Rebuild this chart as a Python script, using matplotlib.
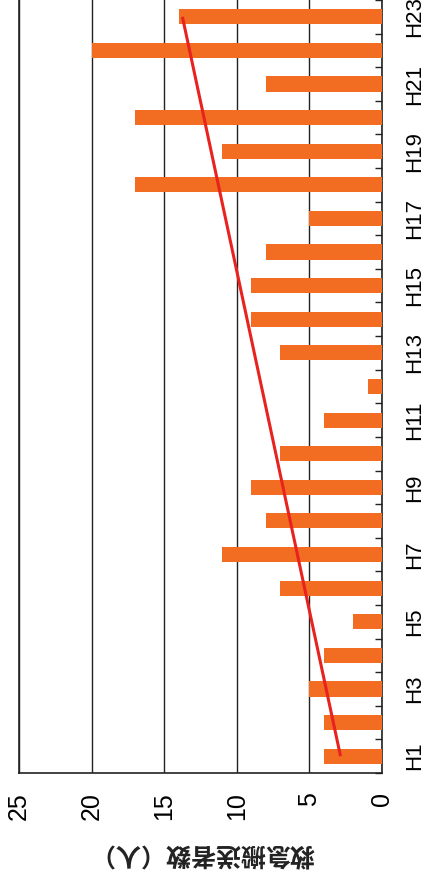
import numpy as np
import matplotlib.pyplot as plt

plt.rcParams['font.family'] = ['Liberation Sans', 'DejaVu Sans']

years = ['H%d' % i for i in range(1, 24)]
counts = [4, 4, 5, 4, 2, 7, 11, 8, 9, 7, 4, 1, 7, 9, 9, 8, 5, 17, 11, 17, 8, 20, 14]
value_ticks = [0, 5, 10, 15, 20, 25]
ylabel = '救急搬送者数（人）'

bar_color = '#F26C22'
trend_color = '#E8231F'

pos = np.arange(len(years))

fig = plt.figure(figsize=(4.24, 8.77), dpi=100)
ax = fig.add_axes([0.045, 0.1186, 0.856, 0.8814])

ax.barh(pos, counts, height=0.45, color=bar_color, zorder=3)

# linear trend over the whole period (values run along x here)
k, b = np.polyfit(pos, counts, 1)
ends = pos[[0, -1]]
ax.plot(k * ends + b, ends, color=trend_color, lw=2.2, zorder=4,
        solid_capstyle='butt')

ax.set_xlim(25, 0)
ax.set_ylim(-0.5, len(years) - 0.5)

ax.set_xticks(value_ticks)
ax.set_xticklabels([str(v) for v in value_ticks], rotation=90, fontsize=18,
                   va='top', ha='center')
ax.tick_params(axis='x', length=0, pad=14)
ax.grid(axis='x', color='#222222', lw=1.0, zorder=1)

ax.yaxis.tick_right()
ax.set_yticks(pos[::2])
ax.set_yticklabels(years[::2], rotation=90, fontsize=16, va='center', ha='left')
ax.set_yticks(np.arange(len(years) + 1) - 0.5, minor=True)
ax.tick_params(axis='y', which='major', length=0, pad=16)
ax.tick_params(axis='y', which='minor', direction='in', length=5, width=1.0,
               color='#222222')

for side in ['left', 'right', 'bottom']:
    ax.spines[side].set_color('#222222')
    ax.spines[side].set_linewidth(1.2)
ax.spines['top'].set_visible(False)

fig.text(0.477, 0.028, ylabel, rotation=180, ha='center', va='center',
         fontsize=18, fontweight='bold',
         family=['Noto Sans CJK JP', 'DejaVu Sans'], color='#222222')

fig.savefig('out.png', dpi=100)
